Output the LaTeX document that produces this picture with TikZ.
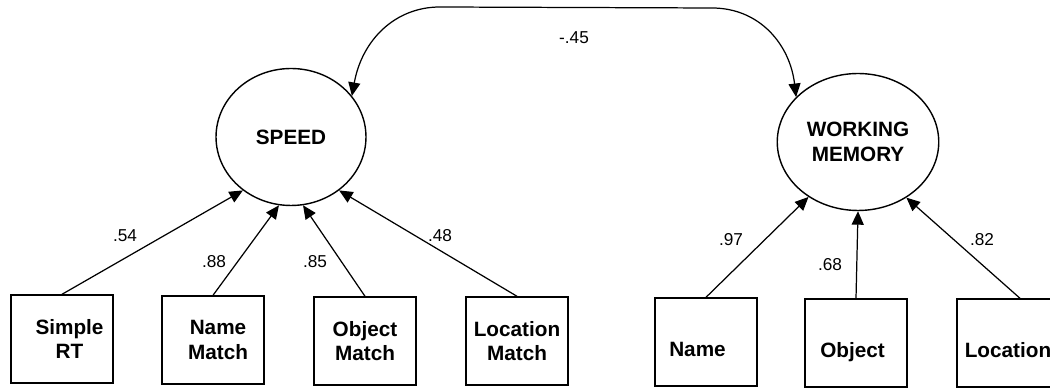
\documentclass[tikz,border=0pt]{standalone}
\usepackage{fontspec}
\setmainfont{Liberation Sans}
\usetikzlibrary{arrows.meta,shapes.geometric}

\tikzset{
  latent/.style={
    draw,
    ellipse,
    line width=0.8pt,
    minimum width=3cm,
    minimum height=2.74cm,
    align=center,
    font=\fontsize{11.8}{14}\selectfont\bfseries
  },
  observed/.style={
    draw,
    rectangle,
    line width=0.8pt,
    minimum width=2.04cm,
    minimum height=1.76cm,
    align=center,
    font=\fontsize{11.8}{14}\selectfont\bfseries
  },
  single/.style={
    text height=0.58cm,
    text depth=0pt
  },
  loading/.style={
    inner sep=0pt,
    font=\fontsize{9.8}{12}\selectfont
  }
}

\begin{document}
\begin{tikzpicture}[x=0.02cm, y=0.02cm, line width=0.7pt,
    >={Triangle[length=0.27cm,width=0.24cm]}]
    \useasboundingbox (0,0) rectangle (1050,388);
    % factors
    \node[latent] at (291,251) (speed) {SPEED};
    \node[latent] at (858,246) (wm) {WORKING\\MEMORY};
    % speed tasks
    \node[observed] at (62,49) (simplert) {\hspace*{0.3cm}Simple\\\hspace*{0.3cm}RT};
    \node[observed] at (213,48) (namematch) {\hspace*{0.2cm}Name\\\hspace*{0.2cm}Match};
    \node[observed] at (365,47) (objmatch) {Object\\Match};
    \node[observed] at (517,47) (locmatch) {Location\\Match};
    % memory tasks
    \node[observed, single] at (706,46) (namewm) {Name\rule{0.34cm}{0pt}};
    \node[observed, single] at (856,45) (objwm) {Object\rule{0.14cm}{0pt}};
    \node[observed, single] at (1008,45) (locwm) {Location};
    \path[->]
      (simplert.north) edge (speed.228)
      (namematch.north) edge (speed.260)
      (objmatch.north) edge (speed.280)
      (locmatch.north) edge (speed.312)
      (namewm.north) edge (wm.228)
      (objwm.north) edge (wm.270)
      ([xshift=0.24cm]locwm.north) edge (wm.311);
    \draw[<->] (speed.34) .. controls (362,348) and (395,381) .. (440,381)
      -- (712,380) .. controls (760,380) and (790,343) .. (wm.144);
    % loadings
    \node[loading] at (125,152) (ld1) {.54};
    \node[loading] at (214,126) (ld2) {.88};
    \node[loading] at (315,126) (ld3) {.85};
    \node[loading] at (440,152) (ld4) {.48};
    \node[loading] at (731,148) (ld5) {.97};
    \node[loading] at (830,123) (ld6) {.68};
    \node[loading] at (982,148) (ld7) {.82};
    \node[loading] at (574,350) (cov) {-.45};
\end{tikzpicture}
\end{document}
